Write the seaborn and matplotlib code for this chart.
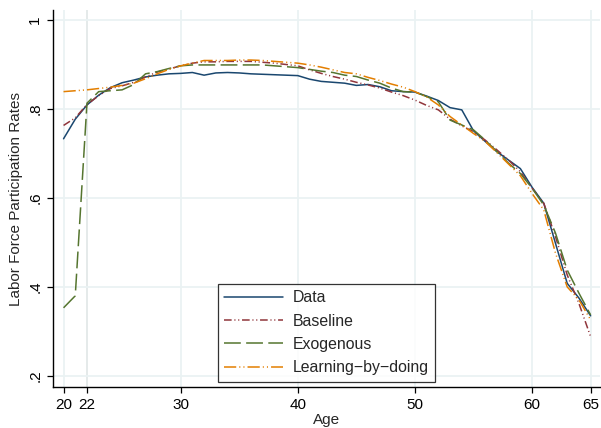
import seaborn as sns
import matplotlib.pyplot as plt
import pandas as pd

ages = list(range(20, 66))

data = [0.733, 0.777, 0.809, 0.831, 0.848, 0.859, 0.865, 0.872, 0.876, 0.879,
        0.880, 0.882, 0.876, 0.881, 0.882, 0.881, 0.879, 0.878, 0.877, 0.876,
        0.875, 0.867, 0.862, 0.860, 0.858, 0.853, 0.855, 0.850, 0.841, 0.839,
        0.838, 0.829, 0.819, 0.803, 0.798, 0.751, 0.727, 0.704, 0.685, 0.666,
        0.624, 0.588, 0.498, 0.408, 0.375, 0.335]
baseline = [0.763, 0.780, 0.810, 0.830, 0.846, 0.852, 0.860, 0.872, 0.883, 0.890,
            0.897, 0.903, 0.906, 0.906, 0.907, 0.907, 0.907, 0.905, 0.903, 0.900,
            0.897, 0.888, 0.880, 0.873, 0.867, 0.860, 0.854, 0.847, 0.838, 0.830,
            0.820, 0.808, 0.798, 0.777, 0.762, 0.749, 0.730, 0.708, 0.685, 0.659,
            0.622, 0.588, 0.513, 0.427, 0.363, 0.288]
exogenous = [0.353, 0.380, 0.813, 0.839, 0.841, 0.843, 0.855, 0.879, 0.884, 0.891,
             0.897, 0.899, 0.899, 0.899, 0.899, 0.899, 0.899, 0.899, 0.897, 0.895,
             0.893, 0.889, 0.885, 0.882, 0.876, 0.873, 0.865, 0.858, 0.847, 0.839,
             0.838, 0.828, 0.816, 0.775, 0.764, 0.753, 0.730, 0.704, 0.678, 0.655,
             0.622, 0.584, 0.521, 0.438, 0.386, 0.337]
learning = [0.839, 0.841, 0.843, 0.846, 0.849, 0.853, 0.858, 0.868, 0.879, 0.889,
            0.897, 0.903, 0.909, 0.909, 0.909, 0.910, 0.910, 0.909, 0.907, 0.905,
            0.903, 0.899, 0.894, 0.888, 0.882, 0.879, 0.871, 0.864, 0.856, 0.849,
            0.839, 0.827, 0.809, 0.783, 0.764, 0.745, 0.727, 0.702, 0.676, 0.650,
            0.610, 0.573, 0.476, 0.400, 0.371, 0.326]

x_ticks = [20, 22, 30, 40, 50, 60, 65]
y_ticks = [0.2, 0.4, 0.6, 0.8, 1.0]
y_tick_labels = [".2", ".4", ".6", ".8", "1"]

series = {
    "Data": (data, "#1a476f", (None, None)),
    "Baseline": (baseline, "#90353b", (5, 1.8, 0.7, 1.8, 0.7, 1.8)),
    "Exogenous": (exogenous, "#55752f", (11, 3.5)),
    "Learning\u2212by\u2212doing": (learning, "#e37e00", (8, 2, 0.7, 2, 0.7, 2)),
}

sns.set_theme(style="white")
plt.rcParams["font.family"] = ["Liberation Sans", "DejaVu Sans"]
plt.rcParams["font.size"] = 11

fig = plt.figure(figsize=(6.01, 4.28), dpi=100)
ax = fig.add_axes([53 / 601, 41 / 428, 547 / 601, 377 / 428])

for name, (vals, color, dash) in series.items():
    df = pd.DataFrame({"Age": ages, "Rate": vals})
    sns.lineplot(data=df, x="Age", y="Rate", color=color, linewidth=1.1,
                 label=name, ax=ax)
    if dash[0] is not None:
        ax.lines[-1].set_dashes(dash)

ax.set_xlim(19.1, 65.8)
ax.set_ylim(0.175, 1.0225)

for xv in x_ticks:
    ax.axvline(xv, color="#e3e8e8" if xv == 22 else "#eaf2f3", lw=1.3, zorder=0)
for yv in y_ticks:
    ax.axhline(yv, color="#eaf2f3", lw=1.3, zorder=0)

ax.set_xticks(x_ticks)
ax.set_yticks(y_ticks)
ax.set_yticklabels(y_tick_labels, rotation=90, va="center")
ax.tick_params(axis="both", which="both", direction="out", length=4.5, width=0.9,
               colors="black", labelsize=11, left=True, bottom=True, pad=3.2)
ax.set_xlabel("Age", fontsize=11)
ax.set_ylabel("Labor Force Participation Rates", fontsize=11)
ax.xaxis.set_label_coords(0.5, -0.068)
ax.yaxis.set_label_coords(-0.055, 0.5)

for side in ["top", "right"]:
    ax.spines[side].set_visible(False)
for side in ["left", "bottom"]:
    ax.spines[side].set_color("black")
    ax.spines[side].set_linewidth(1.0)

leg = ax.legend(loc="lower center", bbox_to_anchor=(326.5 / 601, 46.3 / 428),
                bbox_transform=fig.transFigure, borderaxespad=0, frameon=True,
                fancybox=False, edgecolor="black", handlelength=3.7,
                handletextpad=0.6, labelspacing=0.52, borderpad=0.42,
                fontsize=11.4)
leg.get_frame().set_linewidth(0.9)

fig.savefig("out.png", dpi=100)
